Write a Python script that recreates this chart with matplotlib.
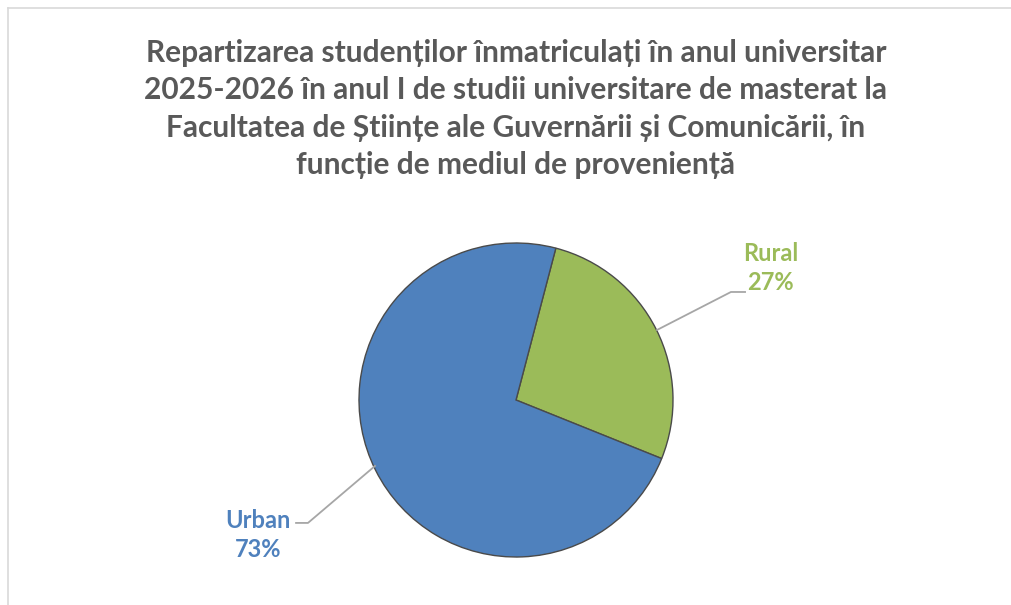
import matplotlib.pyplot as plt
from matplotlib.lines import Line2D

# Data
categories = ["Rural", "Urban"]
values = [27, 73]
colors = ["#9BBB59", "#4F81BD"]
title = ("Repartizarea studenților înmatriculați în anul universitar\n"
         "2025-2026 în anul I de studii universitare de masterat la\n"
         "Facultatea de Științe ale Guvernării și Comunicării, în\n"
         "funcție de mediul de proveniență")

W, H = 1011, 605
fig = plt.figure(figsize=(W / 100, H / 100), dpi=100)
fig.patch.set_facecolor("white")

# chart frame (only left/top visible in the crop)
x0, y0 = 7.5 / W, 1 - 7.5 / H
fig.add_artist(Line2D([x0, 1.0], [y0, y0], color="#D9D9D9", lw=1.2, transform=fig.transFigure))
fig.add_artist(Line2D([x0, x0], [0.0, y0], color="#D9D9D9", lw=1.2, transform=fig.transFigure))

fig.text(516 / W, 1 - 109 / H, title, ha="center", va="center",
         fontsize=21.5, fontweight="bold", color="#595959",
         family=["Lato", "DejaVu Sans"], linespacing=1.4)

# pie, centre (516,400) radius 157 px
cx, cy, r = 516, 400, 157
ax = fig.add_axes([(cx - r) / W, (H - cy - r) / H, 2 * r / W, 2 * r / H])
ax.pie(values, colors=colors, startangle=75.3, counterclock=False,
       wedgeprops=dict(edgecolor="#4a4a4a", linewidth=1.0))
ax.set_xlim(-1, 1)
ax.set_ylim(-1, 1)
ax.set_aspect("equal")
ax.axis("off")

lead = "#A6A6A6"
ax.plot([0.898, 1.369, 1.459], [0.446, 0.688, 0.688], color=lead, lw=1.3, clip_on=False)
ax.plot([-0.898, -1.325, -1.401], [-0.420, -0.783, -0.783], color=lead, lw=1.3, clip_on=False)

for name, v, c, x, y in [(categories[0], values[0], colors[0], 1.62, 0.84),
                         (categories[1], values[1], colors[1], -1.643, -0.86)]:
    ax.text(x, y, f"{name}\n{v}%", ha="center", va="center", color=c,
            fontsize=17, fontweight="bold", family=["Lato", "DejaVu Sans"],
            linespacing=1.35, clip_on=False)

fig.savefig("out.png", dpi=100)
